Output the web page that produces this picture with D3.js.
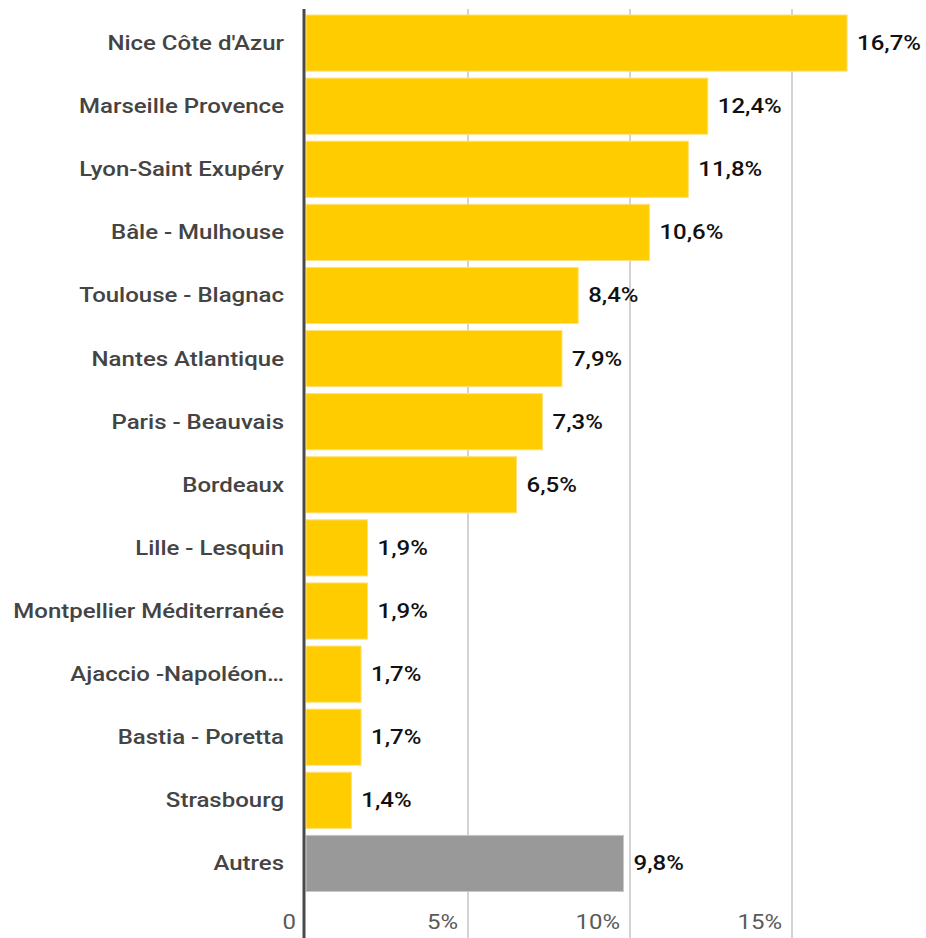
<!DOCTYPE html>
<html>
<head>
<meta charset="utf-8">
<script src="https://cdn.jsdelivr.net/npm/d3@7"></script>
<style>
  body { margin: 0; background: #fff; }
  svg { display: block; font-family: Roboto, sans-serif; }
</style>
</head>
<body>
<div id="chart"></div>
<script>
const airports = [
  'Nice Côte d\'Azur',
  'Marseille Provence',
  'Lyon-Saint Exupéry',
  'Bâle - Mulhouse',
  'Toulouse - Blagnac',
  'Nantes Atlantique',
  'Paris - Beauvais',
  'Bordeaux',
  'Lille - Lesquin',
  'Montpellier Méditerranée',
  'Ajaccio -Napoléon…',
  'Bastia - Poretta',
  'Strasbourg',
  'Autres'
];
const shares = [16.7, 12.4, 11.8, 10.6, 8.4, 7.9, 7.3, 6.5, 1.9, 1.9, 1.7, 1.7, 1.4, 9.8];
const xTicks = [0, 5, 10, 15];

const width = 926;
const height = 938;
// the reference text is a bit wider than plain Roboto
const stretch = 'scale(1.2,1)';

const data = airports.map((name, i) => ({ name, value: shares[i] }));

const x = d3.scaleLinear().domain([0, 15]).range([306, 792]);
const y = d3
  .scaleBand()
  .domain(airports)
  .range([11.5, 895])
  .paddingInner(0.11)
  .paddingOuter(0.055);

const mid = d => y(d.name) + y.bandwidth() / 2;

const svg = d3
  .select('#chart')
  .append('svg')
  .attr('width', width)
  .attr('height', height);

// gridlines + tick labels
const grid = svg.append('g').attr('class', 'grid');
grid
  .selectAll('line')
  .data(xTicks.filter(d => d > 0))
  .join('line')
  .attr('x1', d => x(d))
  .attr('x2', d => x(d))
  .attr('y1', 9)
  .attr('y2', height)
  .attr('stroke', '#c4c4c4')
  .attr('stroke-width', 1.5);

grid
  .selectAll('text')
  .data(xTicks)
  .join('text')
  .attr('transform', d => `translate(${x(d) - 10}, 922) ${stretch}`)
  .attr('dy', '0.35em')
  .attr('text-anchor', 'end')
  .attr('fill', '#5a5a5a')
  .style('font-size', '20px')
  .text(d => (d === 0 ? '0' : `${d}%`));

// bars
svg
  .append('g')
  .selectAll('rect')
  .data(data)
  .join('rect')
  .attr('x', x(0))
  .attr('y', d => y(d.name))
  .attr('width', d => x(d.value) - x(0))
  .attr('height', y.bandwidth())
  .attr('fill', d => (d.name === 'Autres' ? '#999999' : '#ffcc00'))
  .attr('stroke', d => (d.name === 'Autres' ? '#c8c8c8' : '#ffe07a'))
  .attr('stroke-width', 1);

// value labels
svg
  .append('g')
  .selectAll('text')
  .data(data)
  .join('text')
  .attr('transform', d => `translate(${x(d.value) + 10}, ${mid(d)}) ${stretch}`)
  .attr('dy', '0.35em')
  .attr('fill', '#111')
  .style('font-size', '20px')
  .style('font-weight', 500)
  .text(d => `${d.value.toFixed(1).replace('.', ',')}%`);

// category labels
svg
  .append('g')
  .selectAll('text')
  .data(data)
  .join('text')
  .attr('transform', d => `translate(284, ${mid(d)}) ${stretch}`)
  .attr('dy', '0.35em')
  .attr('text-anchor', 'end')
  .attr('fill', '#444')
  .style('font-size', '20px')
  .style('font-weight', 500)
  .text(d => d.name);

// baseline axis
svg
  .append('line')
  .attr('x1', 304)
  .attr('x2', 304)
  .attr('y1', 9)
  .attr('y2', height)
  .attr('stroke', '#4a4a4a')
  .attr('stroke-width', 3);
</script>
</body>
</html>
